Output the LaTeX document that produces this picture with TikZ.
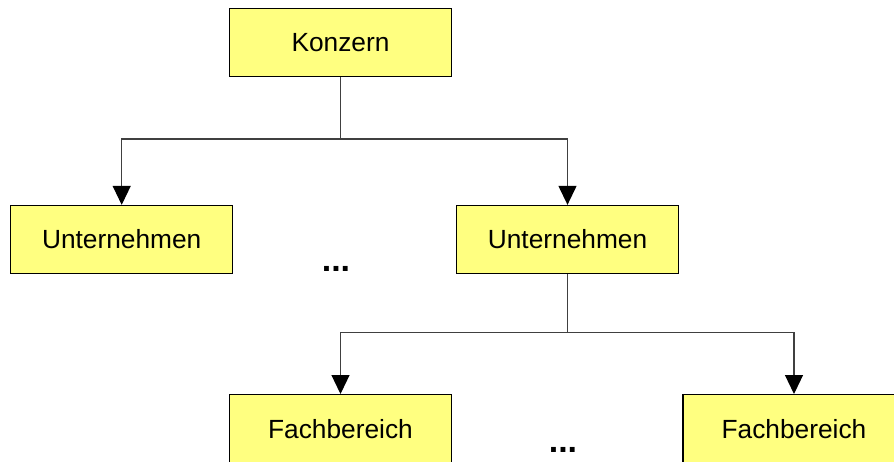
\documentclass[tikz,border=0pt]{standalone}
\usepackage{fontspec}
\setmainfont{Liberation Sans}
\usetikzlibrary{arrows.meta}
\definecolor{boxfill}{HTML}{FFFF80}
\definecolor{linegray}{HTML}{404040}
\tikzset{
  orgbox/.style={draw=black, line width=1.3pt, fill=boxfill, minimum width=222pt, minimum height=68pt, inner sep=0pt, font=\fontsize{26.3}{30}\selectfont},
  conn/.style={draw=linegray, line width=1.2pt},
  arr/.style={conn, -{Triangle[width=18pt,length=19pt,color=black]}},
  dotstext/.style={font=\bfseries\fontsize{34}{36}\selectfont, inner sep=0pt, anchor=base}
}
\begin{document}
\begin{tikzpicture}[x=1pt,y=-1pt]
\clip (0,0) rectangle (894,461);
\fill[white] (0,0) rectangle (894,461);
\node[orgbox] (K) at (340.5,42.5) {Konzern};
\node[orgbox] (UL) at (121.7,239.5) {Unternehmen};
\node[orgbox] (UR) at (567.5,239.5) {Unternehmen};
\node[orgbox, anchor=north] (FL) at (340.5,394) {\raisebox{-1pt}{Fachbereich}};
\node[orgbox, anchor=north] (FR) at (794,394) {\raisebox{-1pt}{Fachbereich}};
\coordinate (j1) at (340.5,139);
\coordinate (j2) at (567.5,332.5);
\draw[conn] (K.south) -- (j1);
\draw[arr] (j1) -| (UL.north);
\draw[arr] (j1) -| (UR.north);
\draw[conn] (UR.south) -- (j2);
\draw[arr] (j2) -| (FL.north);
\draw[arr] (j2) -| (FR.north);
\node[dotstext] (d1) at (336,271) {...};
\node[dotstext] (d2) at (563,452) {...};
\end{tikzpicture}
\end{document}
